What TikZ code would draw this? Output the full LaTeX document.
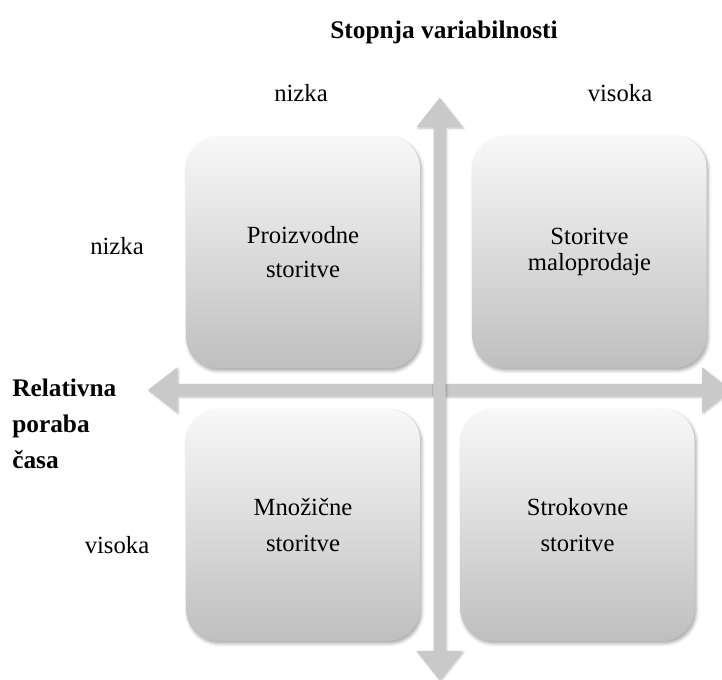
\documentclass[tikz,border=0pt]{standalone}
\usepackage{fontspec}
\setmainfont{Liberation Serif}
\usetikzlibrary{shadows.blur}
\definecolor{axisgrey}{RGB}{201,201,201}
\definecolor{boxtop}{RGB}{248,248,248}
\definecolor{boxbottom}{RGB}{191,191,191}

\begin{document}
\begin{tikzpicture}[x=0.75pt,y=-0.75pt,
  quad/.style={rounded corners=24pt, top color=boxtop, bottom color=boxbottom,
    draw=none, minimum width=175.5pt, minimum height=174pt, inner sep=0pt,
    align=center,
    blur shadow={shadow xshift=1.2pt, shadow yshift=-1.8pt,
      shadow blur radius=2.5pt, shadow opacity=35}},
  axisbar/.style={fill=axisgrey, draw=none,
    blur shadow={shadow xshift=1pt, shadow yshift=-1pt,
      shadow blur radius=1.5pt, shadow opacity=25}},
  lbl/.style={font=\fontsize{18.5}{26}\selectfont, inner sep=0pt},
  heading/.style={font=\fontsize{19}{27}\selectfont\bfseries, inner sep=0pt}]

\useasboundingbox (0,0) rectangle (722,680);
\clip (0,0) rectangle (722,680);

% horizontal axis: relative time use
\fill[axisbar] (148,390) -- (177,367.5) -- (177,384) -- (702,384) -- (702,367.5)
  -- (731,390) -- (702,412.5) -- (702,396) -- (177,396) -- (177,412.5) -- cycle;

% vertical axis: degree of variability
\fill[axisbar] (439.5,98) -- (462.5,127) -- (445.5,127) -- (445.5,651) -- (462.5,651)
  -- (439.5,680) -- (416.5,651) -- (433.5,651) -- (433.5,127) -- (416.5,127) -- cycle;

% the four quadrants
\node[quad, font=\fontsize{18.5}{25.5}\selectfont] (tl) at (303,252.5) {Proizvodne\\storitve};
\node[quad, font=\fontsize{18.5}{19}\selectfont] (tr) at (589.5,252) {Storitve\\maloprodaje};
\node[quad, font=\fontsize{18.5}{27}\selectfont] (bl) at (303,525) {Množične\\storitve};
\node[quad, font=\fontsize{18.5}{27}\selectfont] (br) at (577.5,525) {Strokovne\\storitve};

% axis titles
\node[heading] (ytitle) at (444,32) {Stopnja variabilnosti};
\node[heading, anchor=west, align=left] (xtitle) at (12,424)
  {Relativna\\poraba\\časa};

% scale labels
\node[lbl] (ylow) at (301,93) {nizka};
\node[lbl] (yhigh) at (620,93) {visoka};
\node[lbl] (xlow) at (117,246) {nizka};
\node[lbl] (xhigh) at (117,545) {visoka};
\end{tikzpicture}
\end{document}
